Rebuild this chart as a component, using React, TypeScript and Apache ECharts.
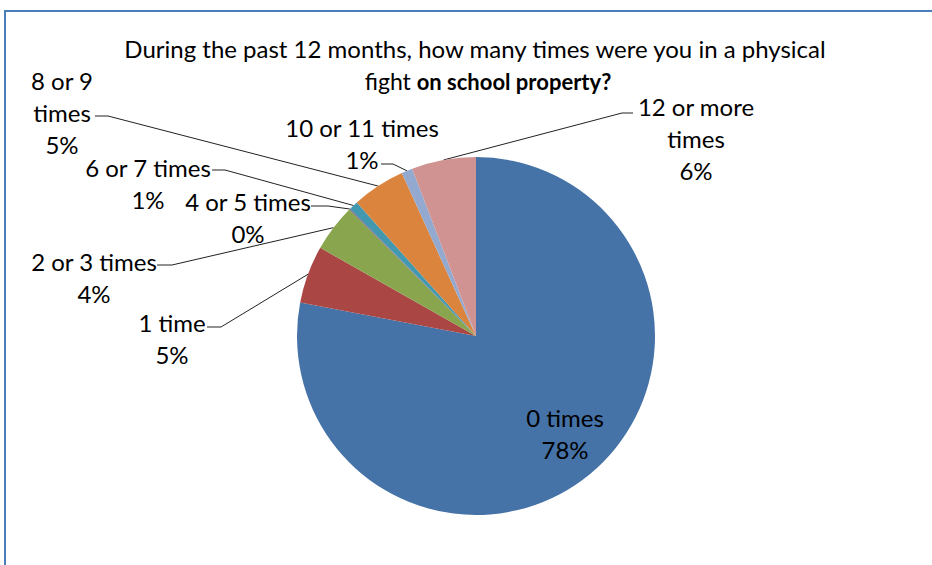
import React, { useEffect, useRef } from "react";
import * as echarts from "echarts";

const categories = [
  "0 times",
  "1 time",
  "2 or 3 times",
  "4 or 5 times",
  "6 or 7 times",
  "8 or 9 times",
  "10 or 11 times",
  "12 or more times",
];
const values = [78.0, 5.2, 4.3, 0.1, 0.8, 4.8, 1.0, 5.8];
const labelNames = [
  "0 times",
  "1 time",
  "2 or 3 times",
  "4 or 5 times",
  "6 or 7 times",
  "8 or 9\ntimes",
  "10 or 11 times",
  "12 or more\ntimes",
];
const colors = ["#4572A7", "#AA4643", "#89A54E", "#71588F", "#4198AF", "#DB843D", "#93A9CF", "#D19392"];
const titleLine1 = "During the past 12 months, how many times were you in a physical";
const titleLine2Normal = "fight ";
const titleLine2Bold = "on school property?";

// label placement (layout only): block centre, line anchor at the text, elbow x
const labelPlacement: any[] = [
  { x: 565, y: 433 },
  { x: 172, y: 338, ax: 207, ay: 327, bx: 221 },
  { x: 94, y: 277, ax: 157, ay: 265, bx: 172 },
  { x: 248, y: 217, ax: 311, ay: 206, bx: 328 },
  { x: 148, y: 183, ax: 212, ay: 170, bx: 225 },
  { x: 62, y: 112, ax: 95, ay: 116, bx: 108 },
  { x: 362, y: 143, ax: 381, ay: 164, bx: 393 },
  { x: 696, y: 138, ax: 633, ay: 113, bx: 622 },
];

const FONT = "Lato";
const FS = 24;

export default function App() {
  const ref = useRef<HTMLDivElement>(null);
  useEffect(() => {
    if (!ref.current) return;
    const chart = echarts.init(ref.current, null, { renderer: "svg" });
    const total = values.reduce((a, b) => a + b, 0);
    chart.setOption({
      animation: false,
      backgroundColor: "#fff",
      graphic: [
        {
          type: "rect",
          shape: { x: 5, y: 11, width: 1200, height: 1000 },
          style: { fill: "none", stroke: "#4A7EBB", lineWidth: 2 },
          silent: true,
        },
        {
          type: "text",
          x: 475,
          y: 48,
          style: {
            text: titleLine1,
            fontFamily: FONT,
            fontSize: FS,
            fill: "#000",
            align: "center",
            verticalAlign: "middle",
          },
        },
        {
          type: "text",
          x: 488,
          y: 81,
          style: {
            text: "{n|" + titleLine2Normal + "}{b|" + titleLine2Bold + "}",
            fontFamily: FONT,
            fontSize: 23,
            fill: "#000",
            align: "center",
            verticalAlign: "middle",
            rich: {
              n: { fontFamily: FONT, fontSize: 23, fill: "#000" },
              b: { fontFamily: FONT, fontSize: 22, fontWeight: "bold", fill: "#000" },
            },
          },
        },
      ],
      series: [
        {
          type: "pie",
          center: [476, 336],
          radius: 179,
          startAngle: 90,
          clockwise: true,
          avoidLabelOverlap: false,
          itemStyle: { borderWidth: 0 },
          label: {
            show: true,
            position: "outside",
            fontFamily: FONT,
            fontSize: FS,
            color: "#000",
            lineHeight: 32,
            align: "center",
            formatter: (p: any) =>
              labelNames[p.dataIndex] + "\n" + Math.round((p.value / total) * 100) + "%",
          },
          labelLine: {
            show: true,
            length: 10,
            length2: 10,
            lineStyle: { color: "#222", width: 1 },
          },
          labelLayout: (params: any) => {
            const pl = labelPlacement[params.dataIndex];
            const res: any = { x: pl.x, y: pl.y, align: "center", verticalAlign: "middle" };
            if (pl.ax != null && params.labelLinePoints) {
              const p0 = params.labelLinePoints[0];
              res.labelLinePoints = [
                [p0[0], p0[1]],
                [pl.bx, pl.ay],
                [pl.ax, pl.ay],
              ];
            }
            return res;
          },
          data: categories.map((name, i) => ({
            name,
            value: values[i],
            itemStyle: { color: colors[i] },
            ...(i === 0
              ? { label: { position: "inside" }, labelLine: { show: false } }
              : {}),
          })),
        },
      ],
    });
    return () => chart.dispose();
  }, []);
  return (
    <div
      ref={ref}
      style={{ position: "fixed", left: 0, top: 0, width: 932, height: 565 }}
    />
  );
}
